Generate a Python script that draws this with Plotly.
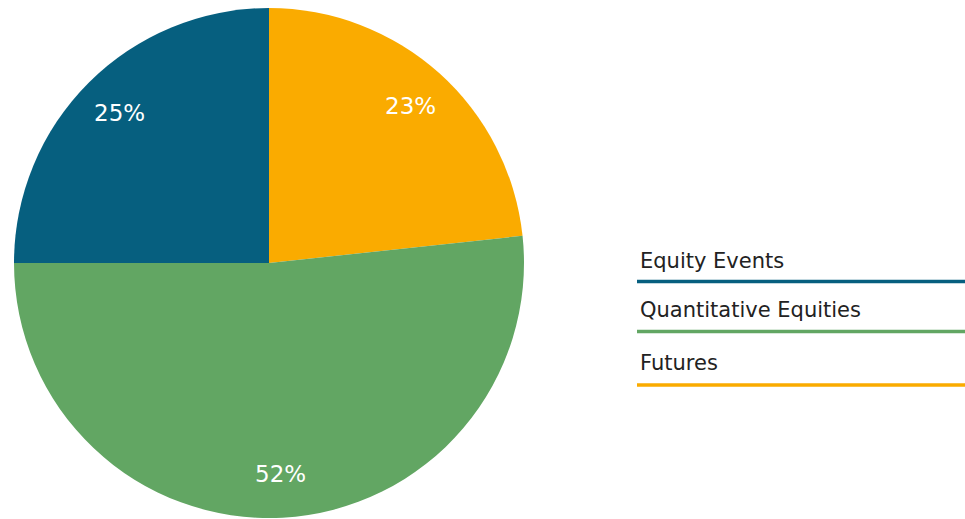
import math
import plotly.graph_objects as go

categories = ["Futures", "Quantitative Equities", "Equity Events"]
values = [23.3, 51.7, 25.0]
colors = ["#FAAB00", "#62A663", "#065F7F"]

legend_order = ["Equity Events", "Quantitative Equities", "Futures"]

W, H = 965, 519
cx, cy, r = 269, 263, 255
label_k = 0.83

fig = go.Figure()
fig.add_trace(go.Pie(
    labels=categories,
    values=values,
    sort=False,
    direction="clockwise",
    rotation=0,
    marker=dict(colors=colors, line=dict(width=0)),
    textinfo="none",
    showlegend=False,
    hoverinfo="label+percent",
    domain=dict(x=[(cx - r) / W, (cx + r) / W], y=[(H - cy - r) / H, (H - cy + r) / H]),
))

# percentage labels placed along each slice bisector
total = sum(values)
cum = 0
for v in values:
    theta = 2 * math.pi * (cum + v / 2) / total
    cum += v
    px = cx + label_k * r * math.sin(theta)
    py = cy - label_k * r * math.cos(theta)
    fig.add_annotation(
        x=px / W, y=1 - py / H, xref="paper", yref="paper",
        text=f"{round(100 * v / total)}%", showarrow=False,
        xanchor="center", yanchor="middle",
        font=dict(size=23, color="white", family="DejaVu Sans"),
    )

# custom legend: label text above a coloured underline
text_y = [261, 310, 363]
line_y = [281.5, 331.5, 385]
for name, ty, ly in zip(legend_order, text_y, line_y):
    col = colors[categories.index(name)]
    fig.add_annotation(
        x=638 / W, y=1 - ty / H, xref="paper", yref="paper",
        text=name, showarrow=False, xanchor="left", yanchor="middle",
        font=dict(size=21, color="#222222", family="DejaVu Sans"),
    )
    fig.add_shape(
        type="line", xref="paper", yref="paper",
        x0=637 / W, x1=1.0, y0=1 - ly / H, y1=1 - ly / H,
        line=dict(color=col, width=3.5),
    )

fig.update_layout(
    width=W, height=H,
    margin=dict(l=0, r=0, t=0, b=0),
    paper_bgcolor="white",
    plot_bgcolor="white",
)

fig.write_html("out.html", config={"displayModeBar": False},
               post_script="document.body.style.margin='0';")
